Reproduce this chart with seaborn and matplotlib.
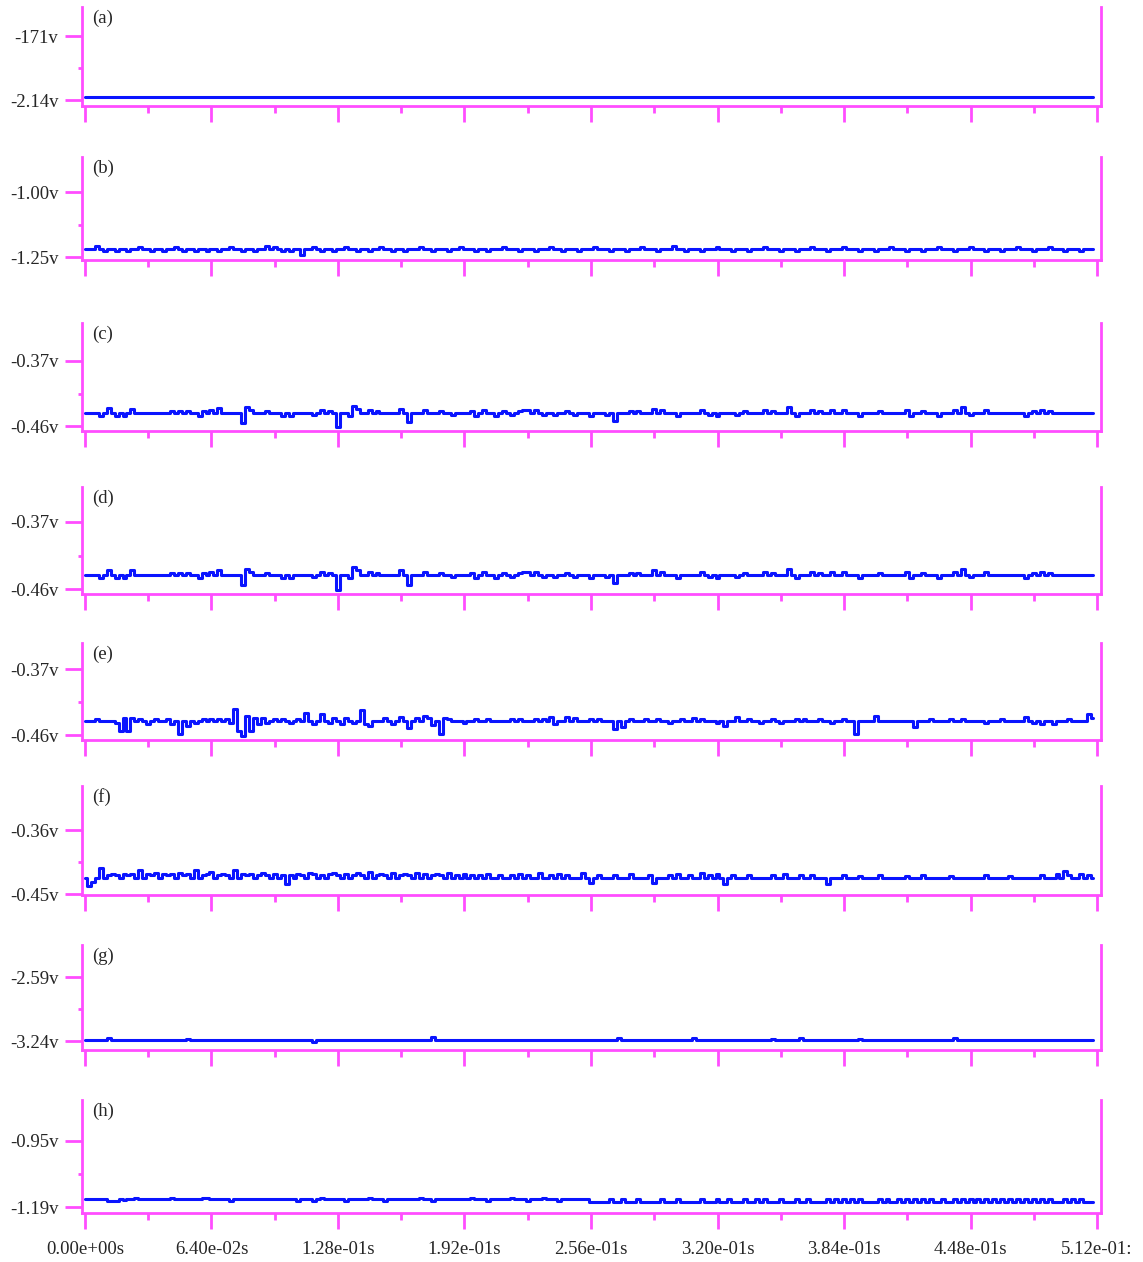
import matplotlib.pyplot as plt
import numpy as np
import seaborn as sns

# ---- data ------------------------------------------------------------------
n_samples = 256          # 2 ms per sample, 0 .. 0.510 s
sample_s = 0.002

panel_names = ['(a)', '(b)', '(c)', '(d)', '(e)', '(f)', '(g)', '(h)']
ytick_values = [(-2.14, -1.71), (-1.25, -1.00), (-0.46, -0.37), (-0.46, -0.37),
                (-0.46, -0.37), (-0.45, -0.36), (-3.24, -2.59), (-1.19, -0.95)]
ytick_labels = [('-2.14v', '-171v'), ('-1.25v', '-1.00v'), ('-0.46v', '-0.37v'),
                ('-0.46v', '-0.37v'), ('-0.46v', '-0.37v'), ('-0.45v', '-0.36v'),
                ('-3.24v', '-2.59v'), ('-1.19v', '-0.95v')]
baselines = [-2.120, -1.219, -0.442, -0.441, -0.441, -0.4275, -3.230, -1.161]

xtick_values = [0.0, 0.064, 0.128, 0.192, 0.256, 0.320, 0.384, 0.448, 0.512]
xtick_labels = ['0.00e+00s', '6.40e-02s', '1.28e-01s', '1.92e-01s', '2.56e-01s',
                '3.20e-01s', '3.84e-01s', '4.48e-01s', '5.12e-01:']

# spikes: time (ms) and offset from baseline (mV)
a_spike_ms = []
a_spike_mv = []

b_spike_ms = [6, 10, 16, 22, 28, 34, 40, 46, 50, 56, 62, 68, 74, 80, 86, 92, 96,
              100, 104, 110, 116, 120, 126, 132, 138, 144, 150, 156, 162, 170, 176,
              184, 190, 198, 204, 212, 220, 228, 236, 242, 250, 258, 266, 274, 282,
              290, 298, 304, 312, 320, 328, 336, 344, 352, 360, 368, 376, 384, 392,
              400, 408, 416, 424, 432, 440, 448, 456, 464, 472, 480, 488, 496, 504]
b_spike_mv = [12, -8, -8, -8, 8, -8, -8, 8, -8, -8, -8, -8, 8, -8, -8, 12, 8,
              -8, -8, -23, 8, -8, -8, 8, -8, -8, 8, -8, -8, 8, -8,
              -8, 8, -8, -8, 8, -8, -8, 8, -8, -8, 8, -8, -8, 8,
              -8, 12, -8, -8, 8, -8, -8, 8, -8, -8, 8, -8, 8, -8,
              -8, 8, -8, -8, 8, -8, 8, -8, -8, 8, -8, 8, -8, -8]

c_spike_ms = [8, 11, 17, 20, 25, 45, 47, 53, 58, 61, 64, 68, 80, 82, 85, 91, 101,
              105, 116, 120, 125, 127, 128, 134, 137, 138, 143, 149, 160, 164, 172,
              180, 186, 195, 198, 202, 207, 211, 215, 219, 222, 225, 227, 233, 238,
              243, 249, 256, 263, 267, 275, 281, 289, 293, 299, 311, 315, 321, 330,
              334, 343, 348, 355, 360, 367, 372, 378, 385, 393, 402, 415, 418, 425,
              432, 439, 444, 448, 456, 475, 481, 484, 488]
c_spike_mv = [-4, 7, -4, -4, 6, 3, 3, 3, -4, 3, 4, 7, -14, 8, 4, 3, -4,
              -4, -3, 4, 3, -6, -14, -4, 10, 6, 4, 3, 6, -13, 4,
              3, -3, 3, -4, 4, -4, 3, -3, 3, 4, 4, 4, -3, -3,
              3, -3, -4, -3, -11, 3, 3, 6, 4, -4, 4, -3, -4, -3,
              3, 4, 3, 8, -4, 4, 3, 4, 4, -4, 3, 4, -4, 3,
              -4, 4, 8, -3, 4, -4, 3, 4, 3]

# (d) shows the same event pattern as (c)
d_spike_ms = c_spike_ms
d_spike_mv = c_spike_mv

e_spike_ms = [6, 15, 18, 20, 22, 24, 29, 33, 37, 42, 45, 48, 51, 55, 57, 60, 65,
              68, 72, 74, 77, 78, 80, 82, 83, 86, 88, 90, 92, 95, 97, 100, 105, 109,
              113, 116, 119, 121, 124, 126, 130, 133, 136, 140, 142, 144, 147, 149,
              153, 157, 161, 163, 167, 171, 174, 176, 180, 182, 185, 191, 198, 204,
              215, 221, 228, 231, 235, 238, 244, 248, 255, 261, 269, 271, 276, 285,
              290, 296, 302, 308, 313, 320, 325, 330, 335, 342, 348, 353, 360, 365,
              371, 378, 385, 390, 400, 419, 421, 428, 438, 443, 455, 465, 477, 480,
              485, 490, 498, 508, 510]
e_spike_mv = [3, -3, -13, 4, -14, 4, 3, -4, 3, 3, -4, -17, -7, 4, -6, 3, 3,
              3, 3, -3, 17, -14, -21, 7, -14, 4, -4, 4, -3, 7, -4, 3, -3, 3,
              11, -4, 4, 6, -3, 4, -4, 4, -3, 15, -4, -7, 4, -4,
              4, -4, 6, -10, 4, 7, 4, -6, -17, 4, 3, -3, 3, 3,
              3, 3, 3, 3, 6, -4, 6, 4, 3, 3, -11, -8, 3, 3,
              3, -3, 3, 4, 3, -3, -7, 6, 3, -3, 3, -3, 3, 3,
              3, -3, 3, -17, 7, -4, -4, 3, 3, 3, -3, 3, 6, -3,
              -4, -4, 3, 10, 4]

f_spike_ms = [2, 4, 5, 7, 9, 12, 14, 17, 19, 22, 24, 27, 29, 32, 34, 37, 39, 42,
              45, 47, 50, 52, 55, 57, 60, 62, 65, 67, 70, 72, 75, 77, 80, 82, 85,
              87, 90, 93, 95, 100, 102, 104, 107, 110, 114, 117, 120, 123, 126,
              129, 132, 135, 138, 141, 144, 147, 150, 153, 156, 159, 162, 165,
              168, 172, 175, 178, 181, 184, 187, 191, 195, 200, 205, 210, 215,
              220, 225, 230, 235, 240, 245, 253, 256, 261, 268, 276, 286, 288,
              296, 301, 306, 311, 316, 321, 323, 329, 336, 347, 354, 362, 369,
              377, 385, 392, 402, 415, 423, 438, 455, 468, 483, 492, 496, 498,
              503, 508]
f_spike_mv = [-11, 6, -11, 7, 7, 4, 6, 4, 6, 4, 6, 7, 4, 6, 4, 7, 6, 4,
              6, 7, 4, 6, 4, 7, 4, 6, 8, 4, 6, 4, 7, 4, 6, 4, 6,
              4, 7, 4, 6, 4, -8, 4, 6, 4, 7, 6, 4, 6, 7,
              4, 6, 4, 7, 4, 8, 4, 6, 4, 7, 4, 6, 4,
              7, 6, 4, 6, 4, 7, 4, 6, 4, 4, 6, 4, 4,
              6, 4, 7, 4, 6, 4, 7, -7, 4, 4, 6, 4, -7,
              4, 6, 4, 7, 4, 6, -8, 4, 4, 4, 6, 4, 4,
              -8, 4, 3, 4, 3, 4, 3, 4, 3, 4, 6, 10, 4,
              6, 4]

g_spike_ms = [13, 51, 116, 175, 270, 309, 348, 362, 392, 441]
g_spike_mv = [20, 10, -20, 30, 20, 20, 10, 20, 10, 20]

h_shift_ms = 256          # level drops slightly in the second half
h_shift_mv = -11
h_spike_ms = [11, 14, 16, 19, 21, 26, 43, 59, 62, 74, 104, 105, 109, 115, 120,
              133, 143, 153, 170, 175, 195, 205, 215, 223, 233, 240,
              266, 273, 281, 291, 301, 311, 319, 326, 334, 339, 343, 353, 360,
              366, 376, 380, 383, 387, 391, 402, 406, 411, 417, 421, 424, 428,
              434, 441, 444, 447, 451, 457, 459, 465, 468, 472, 477, 480, 483,
              488, 496, 501, 503]
h_spike_mv = [-7, -7, -7, -7, 4, 4, 4, 4, 4, -7, 7, -7, -7, -7, 4,
              -7, 4, -7, 4, -7, 4, -7, 4, -7, 4, -7,
              11, 11, 11, 11, 11, 11, 11, 11, 11, 11, 11, 11, 11,
              11, 11, 11, 11, 11, 11, 11, 11, 11, 11, 11, 11, 11,
              11, 11, 11, 11, 11, 11, 11, 11, 11, 11, 11, 11, 11,
              11, 11, 11, 11]

spikes = [(a_spike_ms, a_spike_mv), (b_spike_ms, b_spike_mv),
          (c_spike_ms, c_spike_mv), (d_spike_ms, d_spike_mv),
          (e_spike_ms, e_spike_mv), (f_spike_ms, f_spike_mv),
          (g_spike_ms, g_spike_mv), (h_spike_ms, h_spike_mv)]

# ---- layout (pixel rows of each panel: top of axis, bottom spine) ----------
W, H = 1143, 1262
panel_rows = [(7, 106), (157, 260), (323, 431), (487, 594),
              (643, 740), (786, 895), (945, 1050), (1100, 1213)]
panel_ylims = [(-2.180, -1.515), (-1.2615, -0.865), (-0.4669, -0.3174),
               (-0.4667, -0.323), (-0.4668, -0.3345), (-0.4514, -0.2981),
               (-3.3314, -2.265), (-1.2118, -0.801)]
left_px, right_px = 82, 1101

MAGENTA = '#ff4dff'
BLUE = '#0a14ff'
FONT_SIZE = 13.5


def build_signal(base, spike_ms, spike_mv, shift=None):
    values = np.full(n_samples, base)
    if shift is not None:
        values[int(round(shift[0] / 2)):] += shift[1] / 1000.0
    for t, dv in zip(spike_ms, spike_mv):
        idx = min(int(round(t / 2)), n_samples - 1)
        values[idx] += dv / 1000.0
    return values


sns.set_style('ticks')
plt.rcParams['font.family'] = ['Liberation Serif', 'DejaVu Serif']

fig = plt.figure(figsize=(W / 100, H / 100), dpi=100)
t = np.arange(n_samples) * sample_s

for i, name in enumerate(panel_names):
    top, bottom = panel_rows[i]
    ax = fig.add_axes([left_px / W, 1 - bottom / H,
                       (right_px - left_px) / W, (bottom - top) / H])

    shift = (h_shift_ms, h_shift_mv) if name == '(h)' else None
    sig = build_signal(baselines[i], spikes[i][0], spikes[i][1], shift)
    sns.lineplot(x=t, y=sig, ax=ax, color=BLUE, linewidth=2.2,
                 drawstyle='steps-mid', estimator=None)

    ax.set_xlim(-0.0015, 0.514)
    ax.set_ylim(*panel_ylims[i])

    lo, hi = ytick_values[i]
    ax.set_yticks([lo, hi])
    ax.set_yticklabels(ytick_labels[i])
    ax.set_yticks([(lo + hi) / 2], minor=True)

    ax.set_xticks(xtick_values)
    ax.set_xticks([v + 0.032 for v in xtick_values[:-1]], minor=True)
    if i == len(panel_names) - 1:
        ax.set_xticklabels(xtick_labels)
    else:
        ax.set_xticklabels([])

    ax.tick_params(which='both', bottom=True, left=True, top=False, right=False)
    ax.tick_params(axis='y', which='major', direction='out', length=12,
                   width=2, color=MAGENTA, labelsize=FONT_SIZE, pad=5)
    ax.tick_params(axis='y', which='minor', direction='out', length=3,
                   width=2, color=MAGENTA)
    ax.tick_params(axis='x', which='major', direction='out', length=11.5,
                   width=2, color=MAGENTA, labelsize=FONT_SIZE, pad=9)
    ax.tick_params(axis='x', which='minor', direction='out', length=5,
                   width=2, color=MAGENTA)

    ax.spines['top'].set_visible(False)
    for side in ['left', 'bottom', 'right']:
        ax.spines[side].set_visible(True)
        ax.spines[side].set_color(MAGENTA)
        ax.spines[side].set_linewidth(2)

    ax.set_xlabel('')
    ax.set_ylabel('')
    ax.annotate(name, xy=(0, 1), xycoords='axes fraction',
                xytext=(7, -8), textcoords='offset points',
                ha='left', va='center', fontsize=FONT_SIZE)

fig.savefig('out.png', dpi=100)
plt.close(fig)
